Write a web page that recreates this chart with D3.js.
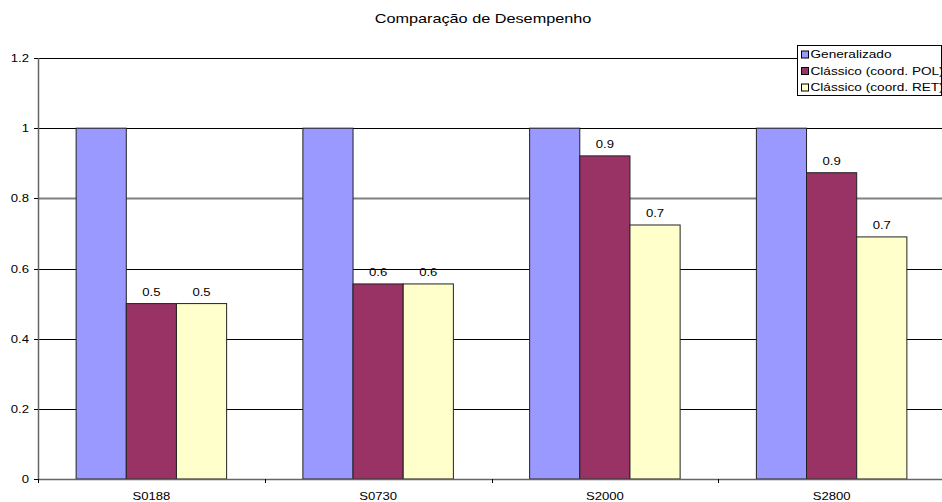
<!DOCTYPE html>
<html>
<head>
<meta charset="utf-8">
<script src="https://cdn.jsdelivr.net/npm/d3@7"></script>
<style>
  body { margin: 0; background: #fff; }
  svg { display: block; font-family: "Liberation Sans", Arial, sans-serif; }
</style>
</head>
<body>
<svg id="chart" width="942" height="502"></svg>
<script>
// Chart data
const title = "Comparação de Desempenho";
const categories = ["S0188", "S0730", "S2000", "S2800"];
const seriesNames = ["Generalizado", "Clássico (coord. POL)", "Clássico (coord. RET)"];
const generalizado = [1, 1, 1, 1];
const classicoPol = [0.5, 0.556, 0.921, 0.873];
const classicoRet = [0.5, 0.556, 0.724, 0.69];
const yTicks = [0, 0.2, 0.4, 0.6, 0.8, 1, 1.2];
const seriesColors = ["#9999FF", "#993366", "#FFFFCC"];
const labelledSeries = [false, true, true];

const seriesValues = [generalizado, classicoPol, classicoRet];
const rows = categories.map((c, i) => ({
  category: c,
  values: seriesNames.map((s, k) => ({ series: s, k, value: seriesValues[k][i] }))
}));

const svg = d3.select("#chart");
const margin = { left: 38, top: 58, bottom: 479, right: 945 };
const sx = 1.25; // horizontal text widening

const y = d3.scaleLinear().domain([0, 1.2]).range([margin.bottom, margin.top]);
const x0 = d3.scaleBand().domain(categories).range([margin.left, margin.right]).paddingInner(0).paddingOuter(0);
const x1 = d3.scaleBand().domain(seriesNames).range([0, x0.bandwidth()]).paddingInner(0).paddingOuter(0.76);

// places a horizontally widened text label
function widenedText(sel, tx, ty) {
  return sel.attr("transform", `translate(${tx},${ty}) scale(${sx},1)`);
}

// Title
widenedText(svg.append("text"), 483, 23)
  .attr("text-anchor", "middle")
  .attr("font-size", 13)
  .attr("fill", "#000")
  .text(title);

// Gridlines
svg.append("g").selectAll("line")
  .data(yTicks.filter(t => t > 0))
  .join("line")
  .attr("x1", margin.left).attr("x2", margin.right)
  .attr("y1", d => Math.round(y(d)) + 0.5).attr("y2", d => Math.round(y(d)) + 0.5)
  .attr("stroke", d => d === 0.8 ? "#808080" : "#000")
  .attr("stroke-width", d => d === 0.8 ? 2 : 1);

// Bars
const groups = svg.append("g").selectAll("g")
  .data(rows)
  .join("g")
  .attr("transform", d => `translate(${x0(d.category)},0)`);

groups.selectAll("rect")
  .data(d => d.values)
  .join("rect")
  .attr("x", d => x1(d.series))
  .attr("width", x1.bandwidth())
  .attr("y", d => y(d.value))
  .attr("height", d => y(0) - y(d.value))
  .attr("fill", d => seriesColors[d.k])
  .attr("stroke", "#222")
  .attr("stroke-width", 1);

// Value labels
const fmt = d3.format(".1f");
groups.selectAll("text.val")
  .data(d => d.values.filter(v => labelledSeries[v.k]))
  .join("text")
  .attr("class", "val")
  .each(function (d) {
    widenedText(d3.select(this), x1(d.series) + x1.bandwidth() / 2, y(d.value) - 8);
  })
  .attr("text-anchor", "middle")
  .attr("font-size", 10.5)
  .attr("fill", "#000")
  .text(d => fmt(d.value));

// Y axis
const yAxis = svg.append("g");
yAxis.append("line")
  .attr("x1", margin.left + 0.5).attr("x2", margin.left + 0.5)
  .attr("y1", margin.top).attr("y2", margin.bottom)
  .attr("stroke", "#666").attr("stroke-width", 1.5);
yAxis.selectAll("line.tick")
  .data(yTicks)
  .join("line")
  .attr("class", "tick")
  .attr("x1", margin.left - 4).attr("x2", margin.left)
  .attr("y1", d => Math.round(y(d)) + 0.5).attr("y2", d => Math.round(y(d)) + 0.5)
  .attr("stroke", "#000");
yAxis.selectAll("text")
  .data(yTicks)
  .join("text")
  .each(function (d) { widenedText(d3.select(this), 29, y(d) + 4); })
  .attr("text-anchor", "end")
  .attr("font-size", 10.5)
  .attr("fill", "#000")
  .text(d => d3.format("")(d));

// X axis
const xAxis = svg.append("g");
xAxis.append("line")
  .attr("x1", margin.left).attr("x2", margin.right)
  .attr("y1", margin.bottom + 0.5).attr("y2", margin.bottom + 0.5)
  .attr("stroke", "#666").attr("stroke-width", 1.5);
xAxis.selectAll("line.tick")
  .data(categories)
  .join("line")
  .attr("class", "tick")
  .attr("x1", d => Math.round(x0(d)) + 0.5).attr("x2", d => Math.round(x0(d)) + 0.5)
  .attr("y1", margin.bottom).attr("y2", margin.bottom + 4)
  .attr("stroke", "#000");
xAxis.selectAll("text")
  .data(categories)
  .join("text")
  .each(function (d) { widenedText(d3.select(this), x0(d) + x0.bandwidth() / 2, 499.5); })
  .attr("text-anchor", "middle")
  .attr("font-size", 10.5)
  .attr("fill", "#000")
  .text(d => d);

// Legend
const legend = svg.append("g");
const lgBox = { x: 797.5, y: 45.5, w: 144, h: 50 };
svg.append("clipPath").attr("id", "lgclip")
  .append("rect").attr("x", lgBox.x).attr("y", lgBox.y).attr("width", lgBox.w).attr("height", lgBox.h);
legend.append("rect")
  .attr("x", lgBox.x).attr("y", lgBox.y).attr("width", lgBox.w).attr("height", lgBox.h)
  .attr("fill", "#fff").attr("stroke", "#000");
const items = legend.append("g").attr("clip-path", "url(#lgclip)")
  .selectAll("g").data(seriesNames).join("g")
  .attr("transform", (d, i) => `translate(0,${54.5 + i * 16.5})`);
items.append("rect")
  .attr("x", 801.5).attr("y", -3.5).attr("width", 7).attr("height", 7)
  .attr("fill", (d, i) => seriesColors[i]).attr("stroke", "#000");
items.append("text")
  .each(function () { widenedText(d3.select(this), 810.5, 0); })
  .attr("dy", "0.36em")
  .attr("font-size", 10.9)
  .attr("fill", "#000")
  .text(d => d);
</script>
</body>
</html>
